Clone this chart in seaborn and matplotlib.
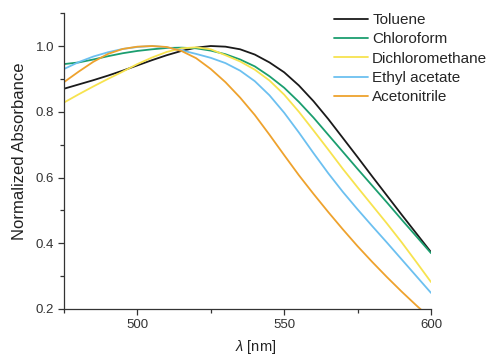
import pandas as pd
import seaborn as sns
import matplotlib.pyplot as plt
from matplotlib.ticker import MultipleLocator

sns.set_theme(style="ticks")
plt.rcParams['font.family'] = ['Liberation Sans', 'DejaVu Sans']
plt.rcParams['mathtext.fontset'] = 'custom'
plt.rcParams['mathtext.rm'] = 'Liberation Sans'
plt.rcParams['mathtext.it'] = 'Liberation Sans:italic'

wavelength = [475, 480, 485, 490, 495, 500, 505, 510, 515, 520, 525, 530, 535,
              540, 545, 550, 555, 560, 565, 570, 575, 580, 585, 590, 595, 600]

toluene = [0.870, 0.883, 0.896, 0.910, 0.925, 0.941, 0.957, 0.972, 0.985, 0.995,
           1.000, 0.998, 0.990, 0.974, 0.950, 0.920, 0.880, 0.832, 0.778, 0.720,
           0.662, 0.603, 0.545, 0.487, 0.430, 0.373]
chloroform = [0.945, 0.950, 0.959, 0.969, 0.978, 0.985, 0.990, 0.994, 0.995, 0.993,
              0.986, 0.975, 0.959, 0.938, 0.908, 0.873, 0.830, 0.782, 0.730, 0.678,
              0.626, 0.575, 0.524, 0.472, 0.421, 0.370]
dichloromethane = [0.828, 0.853, 0.877, 0.900, 0.922, 0.945, 0.965, 0.982, 0.993, 0.996,
                   0.990, 0.972, 0.953, 0.928, 0.895, 0.852, 0.800, 0.743, 0.685, 0.626,
                   0.570, 0.515, 0.460, 0.403, 0.343, 0.282]
ethyl_acetate = [0.930, 0.951, 0.968, 0.981, 0.991, 0.997, 1.000, 0.996, 0.987, 0.976,
                 0.964, 0.948, 0.925, 0.893, 0.850, 0.797, 0.737, 0.674, 0.613, 0.556,
                 0.503, 0.452, 0.402, 0.351, 0.300, 0.249]
acetonitrile = [0.890, 0.922, 0.952, 0.976, 0.991, 0.998, 1.000, 0.997, 0.985, 0.963,
                0.930, 0.890, 0.843, 0.790, 0.730, 0.668, 0.607, 0.550, 0.495, 0.442,
                0.391, 0.343, 0.297, 0.253, 0.211, 0.171]

solvents = ["Toluene", "Chloroform", "Dichloromethane", "Ethyl acetate", "Acetonitrile"]
colors = ["#1a1a1a", "#1b9e6f", "#f7e34f", "#6cc0f0", "#eea22d"]

series = [toluene, chloroform, dichloromethane, ethyl_acetate, acetonitrile]
frames = []
for name, vals in zip(solvents, series):
    frames.append(pd.DataFrame({"wl": wavelength, "abs": vals, "solvent": name}))
df = pd.concat(frames, ignore_index=True)

fig = plt.figure(figsize=(4.92, 3.55), dpi=100)
ax = fig.add_axes([0.130, 0.1296, 0.746, 0.8334])

sns.lineplot(df, x="wl", y="abs", hue="solvent", hue_order=solvents,
             palette=colors, linewidth=1.3, ax=ax, legend=True)

ax.set_xlim(475, 600)
ax.set_ylim(0.2, 1.1)
ax.xaxis.set_major_locator(MultipleLocator(50))
ax.xaxis.set_minor_locator(MultipleLocator(25))
ax.yaxis.set_major_locator(MultipleLocator(0.2))
ax.yaxis.set_minor_locator(MultipleLocator(0.1))
ax.tick_params(which="major", length=4, width=0.9, color="#333333",
               labelsize=9.5, labelcolor="#333333", pad=3)
ax.tick_params(which="minor", length=3, width=0.9, color="#333333")
for s in ["top", "right"]:
    ax.spines[s].set_visible(False)
for s in ["left", "bottom"]:
    ax.spines[s].set_color("#333333")
    ax.spines[s].set_linewidth(0.9)

ax.set_xlabel(r"$\it{\lambda}$ [nm]", fontsize=10.5, color="#222222")
ax.xaxis.set_label_coords(0.523, -0.098)
ax.set_ylabel("Normalized Absorbance", fontsize=12, color="#222222")
ax.yaxis.set_label_coords(-0.10, 0.532)

handles, labels = ax.get_legend_handles_labels()
ax.legend(handles, labels, loc="upper left", bbox_to_anchor=(334 / 492, 1 - 13 / 355),
          bbox_transform=fig.transFigure, frameon=False, fontsize=11,
          handlelength=2.25, handletextpad=0.25, labelspacing=0.35, borderpad=0,
          borderaxespad=0)

fig.savefig("out.png", dpi=100)
